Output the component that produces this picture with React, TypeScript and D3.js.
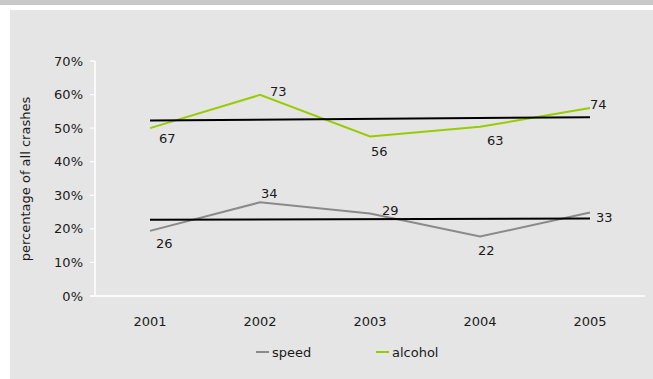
import React from "react";
import * as d3 from "d3";

const years = ["2001", "2002", "2003", "2004", "2005"];
const speedValues = [19.4, 27.9, 24.6, 17.7, 24.9];
const alcoholValues = [50.0, 59.9, 47.5, 50.4, 56.0];
const speedLabels = ["26", "34", "29", "22", "33"];
const alcoholLabels = ["67", "73", "56", "63", "74"];
const yTicks = [0, 10, 20, 30, 40, 50, 60, 70];

// label offsets [dx, dy] relative to point (layout only)
const speedLabelPos: [number, number][] = [
  [6, 13], [1, -9], [12, -3], [-2, 14], [6, 5],
];
const alcoholLabelPos: [number, number][] = [
  [9, 10], [10, -3], [1, 15], [7, 14], [0, -4],
];

function trend(vals: number[]) {
  const n = vals.length;
  const xs = vals.map((_, i) => i);
  const mx = d3.mean(xs)!;
  const my = d3.mean(vals)!;
  let num = 0, den = 0;
  xs.forEach((x, i) => { num += (x - mx) * (vals[i] - my); den += (x - mx) ** 2; });
  const b = num / den;
  const a = my - b * mx;
  return [a, a + b * (n - 1)];
}

export default function App() {
  const W = 653, H = 379;
  const left = 95, right = 645, top = 61, bottom = 296;
  const x = d3.scaleBand().domain(years).range([left, right]);
  const cx = (y: string) => x(y)! + x.bandwidth() / 2;
  const y = d3.scaleLinear().domain([0, 70]).range([bottom, top]);
  const line = d3.line<number>().x((_, i) => cx(years[i])).y((v) => y(v));
  const font = "'DejaVu Sans', Verdana, sans-serif";
  const sT = trend(speedValues);
  const aT = trend(alcoholValues);
  const textColor = "#1a1a1a";
  const fs = 13;
  return (
    <svg width={W} height={H} style={{ position: "absolute", left: 0, top: 0 }} fontFamily={font}>
      <rect x={0} y={0} width={W} height={H} fill="#ffffff" />
      <rect x={0} y={0} width={W} height={5} fill="#c9c9c9" />
      <rect x={10} y={10} width={W - 10} height={H - 10} fill="#e5e5e5" />
      {/* y axis */}
      <line x1={left} x2={left} y1={top} y2={bottom} stroke="#fff" strokeWidth={1.5} />
      {yTicks.map((t) => (
        <g key={t}>
          <line x1={left - 5} x2={left} y1={y(t)} y2={y(t)} stroke="#fff" strokeWidth={1.2} />
          <text x={left - 12} y={y(t)} dy="0.35em" textAnchor="end" fontSize={fs} fill={textColor}>{t}%</text>
        </g>
      ))}
      <line x1={left - 5} x2={right} y1={bottom} y2={bottom} stroke="#fff" strokeWidth={1.5} />
      {years.map((yr) => (
        <text key={yr} x={cx(yr)} y={bottom + 30} textAnchor="middle" fontSize={fs} fill={textColor}>{yr}</text>
      ))}
      <text transform={`translate(30,179) rotate(-90)`} textAnchor="middle" fontSize={fs} fill={textColor}>percentage of all crashes</text>
      {/* series */}
      <path d={line(speedValues)!} fill="none" stroke="#8a8a8a" strokeWidth={2} />
      <path d={line(alcoholValues)!} fill="none" stroke="#99cc00" strokeWidth={2} />
      <line x1={cx(years[0])} x2={cx(years[4])} y1={y(sT[0])} y2={y(sT[1])} stroke="#000" strokeWidth={2} />
      <line x1={cx(years[0])} x2={cx(years[4])} y1={y(aT[0])} y2={y(aT[1])} stroke="#000" strokeWidth={2} />
      {speedValues.map((v, i) => (
        <text key={"s" + i} x={cx(years[i]) + speedLabelPos[i][0]} y={y(v) + speedLabelPos[i][1]} dy="0.35em" fontSize={fs} fill={textColor}>{speedLabels[i]}</text>
      ))}
      {alcoholValues.map((v, i) => (
        <text key={"a" + i} x={cx(years[i]) + alcoholLabelPos[i][0]} y={y(v) + alcoholLabelPos[i][1]} dy="0.35em" fontSize={fs} fill={textColor}>{alcoholLabels[i]}</text>
      ))}
      {/* legend */}
      <line x1={256} x2={269} y1={352} y2={352} stroke="#8a8a8a" strokeWidth={2} />
      <text x={272} y={352} dy="0.35em" fontSize={fs} fill={textColor}>speed</text>
      <line x1={376} x2={389} y1={352} y2={352} stroke="#99cc00" strokeWidth={2} />
      <text x={392} y={352} dy="0.35em" fontSize={fs} fill={textColor}>alcohol</text>
    </svg>
  );
}
